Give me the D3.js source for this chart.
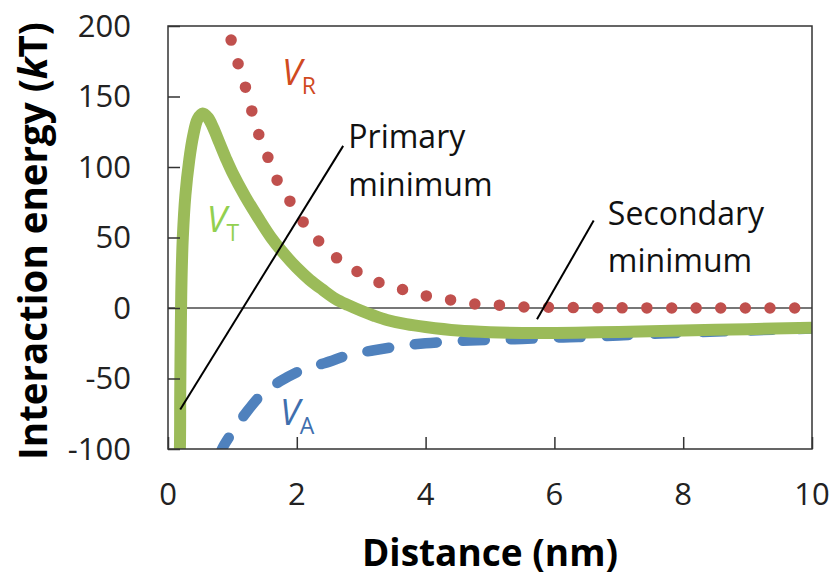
<!DOCTYPE html>
<html>
<head>
<meta charset="utf-8">
<script src="https://cdn.jsdelivr.net/npm/d3@7"></script>
<style>
  body { margin: 0; background: #fff; }
  text { font-family: "Open Sans", sans-serif; }
</style>
</head>
<body>
<svg id="chart" width="835" height="578"></svg>
<script>
// axis ticks
const xTicks = [0, 2, 4, 6, 8, 10]
const yTicks = [-100, -50, 0, 50, 100, 150, 200]

// V_R (repulsion)
const vrX = [0.98, 1.09, 1.20, 1.30, 1.41, 1.55, 1.69, 1.89, 2.10, 2.34, 2.62, 2.93, 3.28, 3.65, 4.02, 4.39, 4.77, 5.16, 5.54, 5.92, 6.5, 7.0, 8.0, 9.0, 10.0]
const vrY = [190, 173, 157, 140, 123, 107, 91, 76, 61, 47.5, 35.5, 26, 18, 13, 8.5, 5.7, 2.8, 2, 0.7, 0.5, 0.2, 0.1, 0, 0, 0]

// V_A (attraction), dashed blue
const vaX = [0.80, 0.84, 1.0, 1.2, 1.46, 1.74, 2.13, 2.44, 2.83, 3.2, 3.6, 4.0, 4.5, 5.0, 5.5, 6.0, 6.5, 7.0, 8.0, 9.0, 10.0]
const vaY = [-106, -100, -88, -75, -61, -52, -43, -39, -33, -30, -27, -25, -23.5, -22.5, -22, -21, -20.5, -19.5, -17.5, -16, -14.5]

// V_T (total), solid green
const vtX = [0.17, 0.185, 0.19, 0.20, 0.21, 0.23, 0.27, 0.33, 0.39, 0.46, 0.54, 0.62, 0.70, 0.80, 0.90, 1.0, 1.2, 1.4, 1.6, 1.8, 2.0, 2.2, 2.4, 2.6, 2.8, 3.0, 3.2, 3.4, 3.7, 4.0, 4.5, 5.0, 5.5, 6.0, 6.5, 7.0, 8.0, 9.0, 10.0]
const vtY = [-120, -100, -60, -10, 20, 50, 80, 105, 122, 134, 138, 135, 128, 117, 106, 96, 79, 64, 50, 38.5, 28.5, 20, 13, 6.5, 2, -2, -5.5, -8.5, -11.5, -13.5, -16, -17.2, -17.7, -17.7, -17.4, -17, -16, -15, -14]

const svg = d3.select('#chart')
const x = d3.scaleLinear().domain([0, 10]).range([168, 812])
const y = d3.scaleLinear().domain([-100, 200]).range([449, 26])

const pts = (xs, ys) => xs.map((v, i) => [v, ys[i]])
const line = d3.line().x(d => x(d[0])).y(d => y(d[1])).curve(d3.curveCatmullRom.alpha(0.5))

svg.append('clipPath').attr('id', 'plot')
  .append('rect').attr('x', 168).attr('y', 26).attr('width', 644).attr('height', 423)

// zero line
svg.append('line')
  .attr('x1', x(0)).attr('x2', x(10)).attr('y1', y(0)).attr('y2', y(0))
  .attr('stroke', '#777').attr('stroke-width', 2)

const g = svg.append('g').attr('clip-path', 'url(#plot)')

g.append('path').datum(pts(vaX, vaY))
  .attr('fill', 'none').attr('stroke', '#4F81BD').attr('stroke-width', 10.5)
  .attr('stroke-linecap', 'round').attr('stroke-dasharray', '22 26')
  .attr('d', line)

g.append('path').datum(pts(vrX, vrY))
  .attr('fill', 'none').attr('stroke', '#C0504D').attr('stroke-width', 11.5)
  .attr('stroke-linecap', 'round').attr('stroke-dasharray', '0 24.6')
  .attr('d', line)

g.append('path').datum(pts(vtX, vtY))
  .attr('fill', 'none').attr('stroke', '#9BBB59').attr('stroke-width', 12)
  .attr('stroke-linejoin', 'round')
  .attr('d', line)

// frame
svg.append('rect').attr('x', 168).attr('y', 26).attr('width', 644).attr('height', 423)
  .attr('fill', 'none').attr('stroke', '#333').attr('stroke-width', 1.5)

// axes with inward ticks
svg.append('g').attr('transform', 'translate(168,0)')
  .call(d3.axisRight(y).tickValues(yTicks).tickSize(12).tickFormat(''))
  .call(a => a.select('.domain').remove())
  .selectAll('line').attr('stroke', '#333').attr('stroke-width', 1.5)
svg.append('g').attr('transform', 'translate(0,449)')
  .call(d3.axisTop(x).tickValues(xTicks).tickSize(12).tickFormat(''))
  .call(a => a.select('.domain').remove())
  .selectAll('line').attr('stroke', '#333').attr('stroke-width', 1.5)

// tick labels
svg.selectAll('.ylab').data(yTicks).join('text')
  .attr('x', 131).attr('y', d => y(d)).attr('dy', '0.35em')
  .attr('text-anchor', 'end').attr('font-size', 31).attr('fill', '#222')
  .text(d => d)
svg.selectAll('.xlab').data(xTicks).join('text')
  .attr('x', d => x(d)).attr('y', 505)
  .attr('text-anchor', 'middle').attr('font-size', 31).attr('fill', '#222')
  .text(d => d)

// axis titles
svg.append('text').attr('x', 490).attr('y', 566).attr('text-anchor', 'middle')
  .attr('font-size', 37).attr('font-weight', 'bold').text('Distance (nm)')
const yt = svg.append('text').attr('transform', 'translate(47,241) rotate(-90)')
  .attr('text-anchor', 'middle').attr('font-size', 38.5).attr('font-weight', 'bold')
yt.append('tspan').text('Interaction energy (')
yt.append('tspan').attr('font-style', 'italic').text('k')
yt.append('tspan').text('T)')

// curve labels
function vlabel(px, py, sub, color) {
  const t = svg.append('text').attr('x', x(px)).attr('y', y(py)).attr('fill', color)
  t.append('tspan').attr('font-style', 'italic').attr('font-size', 36).text('V')
  t.append('tspan').attr('font-size', 23).attr('dy', 9).text(sub)
}
vlabel(1.77, 158, 'R', '#D04A1F')
vlabel(0.6, 54, 'T', '#92D050')
vlabel(1.74, -83, 'A', '#3F6FAE')

// annotations
svg.append('line').attr('x1', x(0.19)).attr('y1', y(-72)).attr('x2', x(2.72)).attr('y2', y(115))
  .attr('stroke', '#000').attr('stroke-width', 2)
svg.append('line').attr('x1', x(5.73)).attr('y1', y(-8)).attr('x2', x(6.61)).attr('y2', y(62))
  .attr('stroke', '#000').attr('stroke-width', 2)
const note = (px, py, txt) => svg.append('text').attr('x', x(px)).attr('y', y(py))
  .attr('font-size', 32).attr('fill', '#111').text(txt)
note(2.8, 113.5, 'Primary')
note(2.8, 79.4, 'minimum')
note(6.83, 58.9, 'Secondary')
note(6.83, 25.5, 'minimum')
</script>
</body>
</html>
